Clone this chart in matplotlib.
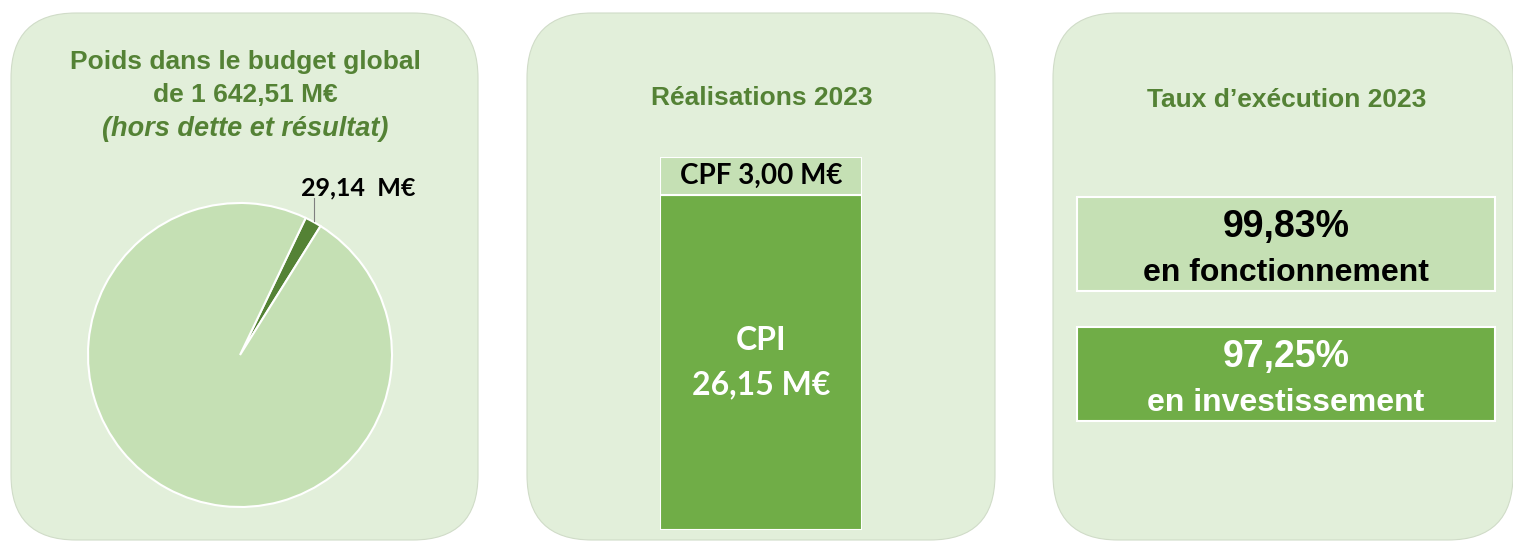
import matplotlib
matplotlib.use("Agg")
import matplotlib.pyplot as plt
from matplotlib.patches import FancyBboxPatch, Rectangle

# data
budget_global = 1642.51
poids_part = 29.14
pie_values = [poids_part, budget_global - poids_part]

bar_labels = ["CPI", "CPF"]
bar_values = [26.15, 3.00]

taux_values = [99.83, 97.25]
taux_labels = ["en fonctionnement", "en investissement"]

# colours
BG = "#e2efda"
LIGHT = "#c5e0b4"
DARK = "#548235"
MID = "#70ad47"
TITLE = "#548235"

W, H = 1513, 542
fig = plt.figure(figsize=(W / 100, H / 100), dpi=100)
fig.patch.set_facecolor("white")

bg = fig.add_axes([0, 0, 1, 1])
bg.set_xlim(0, W)
bg.set_ylim(H, 0)
bg.axis("off")

# three rounded panels
for x0, x1 in [(11, 478), (527, 995), (1053, 1513)]:
    bg.add_patch(FancyBboxPatch((x0, 13), x1 - x0, 527,
                                boxstyle="round,pad=0,rounding_size=65",
                                fc=BG, ec="#d0dcc8", lw=0.8))

title_font = dict(family="Liberation Sans", weight="bold", color=TITLE, ha="center", va="center")
bg.text(245, 62, "Poids dans le budget global", fontsize=19, **title_font)
bg.text(245, 95, "de 1 642,51 M€", fontsize=19, **title_font)
bg.text(245, 129, "(hors dette et résultat)", fontsize=19.5, style="italic", **title_font)
bg.text(762, 98, "Réalisations 2023", fontsize=19, **title_font)
bg.text(1287, 100, "Taux d’exécution 2023", fontsize=19, **title_font)

# pie
def px_axes(x0, y0, x1, y1):
    return fig.add_axes([x0 / W, (H - y1) / H, (x1 - x0) / W, (y1 - y0) / H])

pax = px_axes(88, 203, 392, 507)
pax.pie(pie_values, colors=[DARK, LIGHT], startangle=58, counterclock=True,
        wedgeprops=dict(edgecolor="white", linewidth=1.5))
pax.set_xlim(-1, 1)
pax.set_ylim(-1, 1)
pax.plot([0.485, 0.485], [0.88, 1.03], color="#7f7f7f", lw=0.8, clip_on=False)
pax.text(0.78, 1.10, f"{poids_part:.2f}  M€".replace(".", ","), family="Lato", weight="bold",
         fontsize=18, ha="center", va="center", color="black", clip_on=False)

# stacked bar
bax = px_axes(660, 157, 862, 530)
bax.bar(0, bar_values[0], width=1, color=MID, edgecolor="white", linewidth=1.5)
bax.bar(0, bar_values[1], bottom=bar_values[0], width=1, color=LIGHT, edgecolor="white", linewidth=1.5)
bax.set_xlim(-0.5, 0.5)
bax.set_ylim(0, sum(bar_values))
bax.axis("off")
bax.text(0, bar_values[0] + bar_values[1] / 2, f"{bar_labels[1]} {bar_values[1]:.2f} M€".replace(".", ","),
         family="Lato", weight="bold", fontsize=20, ha="center", va="center", color="black")
bax.text(0, bar_values[0] * 0.50, f"{bar_labels[0]}\n{bar_values[0]:.2f} M€".replace(".", ","),
         family="Lato", weight="bold", fontsize=23, ha="center", va="center", color="white",
         linespacing=1.6)

# execution rate boxes
for (y0, y1), val, lab, fc, tc in zip([(197, 291), (327, 421)], taux_values, taux_labels,
                                      [LIGHT, MID], ["black", "white"]):
    bg.add_patch(Rectangle((1077, y0), 418, y1 - y0, fc=fc, ec="white", lw=1.5))
    bg.text(1286, y0 + 30, f"{val:.2f}%".replace(".", ","), family="Liberation Sans",
            weight="bold", fontsize=27, ha="center", va="center", color=tc)
    bg.text(1286, y0 + 76, lab, family="Liberation Sans", weight="bold",
            fontsize=23, ha="center", va="center", color=tc)

fig.savefig("out.png", dpi=100, facecolor="white")
